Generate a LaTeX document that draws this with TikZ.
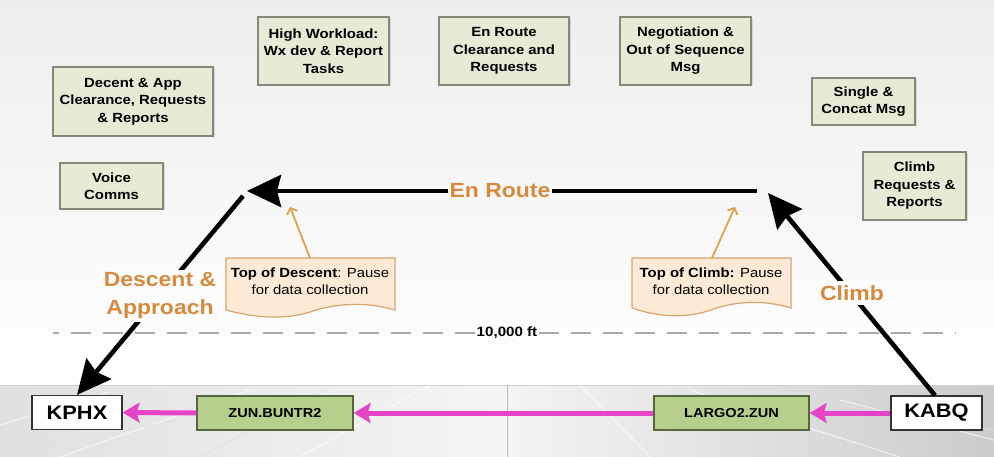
\documentclass[tikz,border=0pt]{standalone}
\usepackage{fontspec}
\setmainfont[FakeStretch=1.12]{Liberation Sans}
\usetikzlibrary{arrows.meta,calc,shadows}
\definecolor{bgtop}{HTML}{EEEEEE}
\definecolor{boxfill}{HTML}{E7EBD6}
\definecolor{boxline}{HTML}{85897A}
\definecolor{routefill}{HTML}{B6CF8D}
\definecolor{routeline}{HTML}{56663C}
\definecolor{orangetxt}{HTML}{D68A3E}
\definecolor{callfill}{HTML}{FDEAD6}
\definecolor{callline}{HTML}{D7A470}
\definecolor{calarrow}{HTML}{E2A04E}
\definecolor{mag}{HTML}{E645C8}
\definecolor{dashgray}{HTML}{AAAAAA}
\tikzset{
  gbox/.style={draw=boxline, fill=boxfill, line width=1.3pt, align=center,
    font=\fontsize{13.3}{17.5}\selectfont\bfseries, inner sep=2pt,
    drop shadow={shadow xshift=1.5pt, shadow yshift=-1.5pt, opacity=0.25}},
  rbox/.style={draw=routeline, fill=routefill, line width=1.3pt, minimum height=34pt,
    font=\fontsize{13}{15}\selectfont\bfseries, inner sep=2pt},
  abox/.style={draw=black!80, fill=white, line width=1.2pt, minimum height=34pt,
    font=\fontsize{19.5}{22}\selectfont\bfseries, inner sep=2pt},
  phase/.style={text=orangetxt, font=\fontsize{20.5}{28}\selectfont\bfseries, align=center, inner sep=3pt},
  blackarrow/.style={line width=4.6pt, draw=black, -{Stealth[length=34pt,width=32pt,inset=4pt]}},
  blackline/.style={line width=4.6pt, draw=black},
  magarrow/.style={line width=5pt, draw=mag, -{Stealth[length=17pt,width=20pt,inset=3pt]}},
  calltext/.style={align=center, font=\fontsize{13.3}{16.5}\selectfont, inner sep=0pt},
  callshape/.style={draw=callline, fill=callfill, line width=1.2pt},
  callarrow/.style={draw=calarrow, line width=1.8pt, -{Straight Barb[length=5pt,width=11pt]}},
}
\begin{document}
\begin{tikzpicture}[x=1pt,y=-1pt]
\useasboundingbox (0,0) rectangle (994,457);
% background
\shade[top color=bgtop, bottom color=white] (0,0) rectangle (994,385);
\fill[white] (0,380) rectangle (994,385);
% ground
\shade[left color=black!12, right color=black!20, middle color=black!4] (0,385) rectangle (994,457);
\draw[black!18, line width=1pt] (0,385) -- (994,385);
\begin{scope}[white, line width=0.8pt, opacity=0.8]
  \draw (430,385) -- (300,457);
  \draw (250,390) -- (60,457);
  \draw (110,392) -- (0,425);
  \draw (580,385) -- (650,457);
  \draw (690,390) -- (900,457);
  \draw (840,400) -- (994,440);
\end{scope}
\begin{scope}[black!12, line width=0.6pt]
  \draw (330,388) -- (200,457);
  \draw (0,405) -- (60,395);
  \draw (20,450) -- (180,420);
  \draw (760,392) -- (994,430);
\end{scope}
\draw[black!28, line width=1pt] (507,385) -- (507,457);

% task boxes
\node[gbox, minimum width=160pt, minimum height=69pt] (dec) at (133,101.5) {Decent \& App\\Clearance, Requests\\\& Reports};
\node[gbox, minimum width=103pt, minimum height=46pt] (voice) at (111.5,186) {Voice\\Comms};
\node[gbox, minimum width=131pt, minimum height=68pt] (high) at (323.5,51) {High Workload:\\Wx dev \& Report\\Tasks};
\node[gbox, minimum width=130pt, minimum height=68pt] (enr) at (504,51) {En Route\\Clearance and\\Requests};
\node[gbox, minimum width=131pt, minimum height=68pt] (neg) at (685.5,51) {Negotiation \&\\Out of Sequence\\Msg};
\node[gbox, minimum width=103pt, minimum height=47pt] (single) at (863.5,101.5) {Single \&\\Concat Msg};
\node[gbox, minimum width=103pt, minimum height=68pt] (climbreq) at (914.5,186) {Climb\\Requests \&\\Reports};

% airports and routes
\node[abox, minimum width=90pt] (kphx) at (77,412.5) {KPHX};
\node[rbox, minimum width=156pt] (zun) at (275,413) {ZUN.BUNTR2};
\node[rbox, minimum width=155pt] (largo) at (731.5,413) {LARGO2.ZUN};
\node[abox, minimum width=91pt] (kabq) at (936.5,413) {KABQ};
\draw[magarrow] (kabq.west) -- (largo.east);
\draw[magarrow] (largo.west) -- (zun.east);
\draw[magarrow] (zun.west) -- (kphx.east);

% 10,000 ft line
\coordinate (dl0) at (53,333);
\coordinate (dl1) at (955,333);
\node[font=\fontsize{13.5}{15}\selectfont\bfseries, inner sep=1.5pt] (ten) at (507,333) {10,000 ft};
\draw[dashgray, line width=2pt, dash pattern=on 20pt off 12pt] (ten.west) -- (dl0);
\draw[dashgray, line width=2pt, dash pattern=on 20pt off 12pt] (ten.east) -- (dl1);

% en route
\coordinate (erR) at (757,191);
\coordinate (erL) at (247,191);
\node[phase, anchor=base, inner xsep=1pt] (erlbl) at (500,198) {En Route};
\draw[blackline] (erR) -- (erlbl.east |- erR);
\draw[blackarrow] (erlbl.west |- erL) -- (erL);

% descent
\coordinate (dtop) at (243,196);
\draw[blackarrow] (dtop) -- (kphx.north);
\node[phase, fill=bgtop!18!white] (desc) at (160,296) {Descent \&\\Approach};

% climb
\coordinate (ctop) at (768,193);
\draw[blackarrow] ($(kabq.north)+(-1.5,0)$) -- (ctop);
\node[phase, fill=bgtop!20!white, inner sep=4pt] (clmb) at (852,293) {Climb};

% callouts
\draw[callshape] (226,258) -- (395,258) -- (395,310)
  .. controls (360,300) and (330,305) .. (310,312)
  .. controls (285,320) and (255,318) .. (226,310) -- cycle;
\node[calltext] (tod) at (310,281) {\textbf{Top of Descent}: Pause\\for data collection};
\coordinate (todtip) at (290,207);
\draw[callarrow] (tod.north |- 0,258) -- (todtip);

\draw[callshape] (632,258) -- (791,258) -- (791,308)
  .. controls (758,298) and (730,303) .. (711,310)
  .. controls (688,318) and (660,318) .. (632,308) -- cycle;
\node[calltext] (toc) at (711,281) {\textbf{Top of Climb:} Pause\\for data collection};
\coordinate (toctip) at (735,207);
\draw[callarrow] ($(toc.north |- 0,258)+(1,0)$) -- (toctip);
\end{tikzpicture}
\end{document}
